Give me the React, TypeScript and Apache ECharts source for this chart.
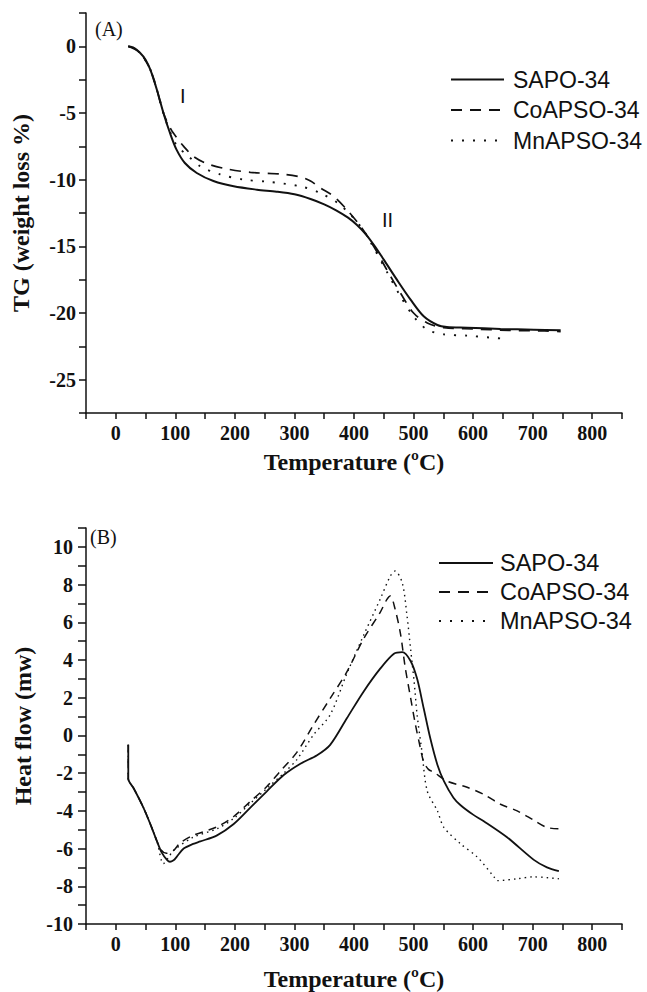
import React, { useEffect, useRef } from "react";
import * as echarts from "echarts";

// ---- Panel A: TG curves (temperature °C, weight loss %) ----
const tgSapoT = [21, 30, 41, 50, 58, 69, 80, 91, 102, 116, 136, 164, 198, 237, 270, 300, 327, 350, 370, 390, 405, 420, 435, 450, 472, 495, 517, 540, 556, 590, 646, 702, 747];
const tgSapoV = [0, -0.1, -0.5, -1.0, -1.75, -3.25, -5, -6.5, -7.75, -8.75, -9.5, -10.1, -10.5, -10.75, -10.9, -11.1, -11.45, -11.85, -12.3, -12.85, -13.4, -14.1, -15.0, -16.0, -17.5, -19.0, -20.25, -20.9, -21.05, -21.1, -21.2, -21.25, -21.3];
const tgCoT = [21, 41, 58, 69, 80, 93, 105, 114, 130, 153, 187, 226, 282, 310, 327, 343, 366, 388, 411, 433, 455, 478, 500, 523, 551, 600, 660, 720, 747];
const tgCoV = [0, -0.5, -1.75, -3.25, -5, -6.25, -7.0, -7.5, -8.25, -8.8, -9.2, -9.45, -9.6, -9.8, -10.1, -10.6, -11.25, -12.25, -13.5, -15.0, -16.75, -18.5, -20.0, -20.75, -21.1, -21.2, -21.3, -21.35, -21.4];
const tgMnT = [21, 41, 58, 69, 80, 91, 102, 122, 142, 175, 215, 254, 310, 343, 377, 411, 433, 455, 478, 500, 523, 551, 590, 657];
const tgMnV = [0, -0.5, -1.75, -3.25, -5, -6.4, -7.4, -8.25, -9.0, -9.6, -10.0, -10.15, -10.5, -11.0, -11.9, -13.5, -15.1, -16.9, -18.75, -20.25, -21.25, -21.6, -21.7, -21.95];

// ---- Panel B: DSC heat flow (mw) ----
const hfSapoT = [21, 21, 30, 46, 58, 69, 77, 86, 91, 97, 102, 114, 130, 142, 170, 198, 226, 254, 282, 310, 338, 360, 388, 416, 444, 467, 481, 495, 506, 517, 528, 540, 551, 567, 579, 600, 618, 657, 702, 724, 744];
const hfSapoV = [-0.5, -2.3, -2.8, -3.8, -4.7, -5.6, -6.2, -6.6, -6.7, -6.62, -6.45, -6.0, -5.75, -5.62, -5.3, -4.7, -3.83, -2.95, -2.1, -1.5, -1.05, -0.5, 0.91, 2.32, 3.54, 4.33, 4.42, 3.95, 3.0, 1.44, -0.14, -1.55, -2.42, -3.3, -3.7, -4.2, -4.55, -5.4, -6.6, -7.0, -7.2];
const hfCoT = [21, 21, 30, 46, 58, 69, 77, 85, 97, 108, 130, 170, 198, 226, 254, 276, 304, 332, 360, 388, 416, 444, 455, 461, 469, 478, 486, 495, 503, 511, 517, 525, 534, 556, 590, 618, 646, 674, 702, 724, 744];
const hfCoV = [-0.5, -2.3, -2.8, -3.8, -4.7, -5.6, -6.1, -6.25, -6.1, -5.7, -5.3, -4.85, -4.3, -3.5, -2.7, -1.9, -0.9, 0.56, 1.96, 3.37, 5.12, 6.53, 7.2, 7.4, 6.7, 5.4, 3.6, 2.0, 0.6, -0.6, -1.4, -1.8, -1.95, -2.42, -2.75, -3.13, -3.65, -4.0, -4.5, -4.88, -4.95];
const hfMnT = [21, 21, 30, 46, 58, 69, 80, 88, 97, 130, 170, 198, 226, 254, 282, 304, 332, 360, 388, 416, 444, 461, 469, 481, 489, 495, 501, 506, 514, 523, 540, 551, 579, 607, 635, 640, 674, 702, 744];
const hfMnV = [-0.5, -2.3, -2.8, -3.8, -4.7, -5.6, -6.8, -6.5, -6.1, -5.4, -4.95, -4.4, -3.6, -2.8, -2.0, -1.28, 0.03, 1.1, 3.28, 5.3, 7.23, 8.45, 8.72, 8.1, 6.35, 4.6, 2.84, 1.08, -0.84, -2.95, -4.0, -4.88, -5.75, -6.45, -7.5, -7.7, -7.6, -7.5, -7.6];

const seriesNames = ["SAPO-34", "CoAPSO-34", "MnAPSO-34"];
const xTickLabels = [0, 100, 200, 300, 400, 500, 600, 700, 800];
const panelLabels = ["(A)", "(B)"];
const stageLabels = ["I", "II"];

const zip = (t: number[], v: number[]) => t.map((x, i) => [x, v[i]]);

const SERIF = "Liberation Serif";
const SANS = "Liberation Sans";
const INK = "#111";

const boldLabel = { fontFamily: SERIF, fontWeight: "bold", fontSize: 20, color: INK };

export default function App() {
  const ref = useRef<HTMLDivElement>(null);
  useEffect(() => {
    if (!ref.current) return;
    const chart = echarts.init(ref.current, undefined, { renderer: "svg" });

    const xAxisBase = (gridIndex: number, nameGap: number) => ({
      type: "value",
      gridIndex,
      min: -50,
      max: 850,
      interval: 50,
      name: "Temperature (ºC)",
      nameLocation: "middle",
      nameGap,
      nameTextStyle: { fontFamily: SERIF, fontWeight: "bold", fontSize: 24, color: INK },
      axisLine: { show: true, onZero: false, lineStyle: { color: INK, width: 1.5 } },
      axisTick: { show: true, length: 6, lineStyle: { color: INK, width: 1.5 } },
      axisLabel: {
        margin: 10,
        ...boldLabel,
        formatter: (v: number) => (xTickLabels.includes(v) ? `{b|${v}}` : ""),
        rich: { b: boldLabel },
      },
      splitLine: { show: false },
    });

    const lineSeries = (
      name: string,
      xAxisIndex: number,
      data: number[][],
      type: any,
      width: number
    ) => ({
      name,
      type: "line",
      xAxisIndex,
      yAxisIndex: xAxisIndex,
      data,
      symbol: "none",
      smooth: 0.3,
      lineStyle: { color: INK, width, type },
      itemStyle: { color: INK },
    });

    const legendBase = {
      data: seriesNames,
      orient: "vertical",
      padding: 0,
      itemHeight: 14,
      selectedMode: false,
      itemStyle: { opacity: 0 },
    };

    chart.setOption({
      animation: false,
      backgroundColor: "#fff",
      grid: [
        { left: 86, top: 13, width: 536, height: 400 },
        { left: 86, top: 528, width: 536, height: 399 },
      ],
      xAxis: [xAxisBase(0, 37), xAxisBase(1, 43)],
      yAxis: [
        {
          type: "value",
          gridIndex: 0,
          min: -27.5,
          max: 2.5,
          interval: 2.5,
          name: "TG (weight loss %)",
          nameLocation: "middle",
          nameGap: 53,
          nameTextStyle: { fontFamily: SERIF, fontWeight: "bold", fontSize: 24, color: INK },
          axisLine: { show: true, onZero: false, lineStyle: { color: INK, width: 1.5 } },
          axisTick: { show: true, length: 7, lineStyle: { color: INK, width: 1.5 } },
          axisLabel: {
            margin: 10,
            ...boldLabel,
            formatter: (v: number) => (v % 5 === 0 ? `{b|${v}}` : ""),
            rich: { b: boldLabel },
          },
          splitLine: { show: false },
        },
        {
          type: "value",
          gridIndex: 1,
          min: -10,
          max: 11,
          interval: 1,
          name: "Heat flow (mw)",
          nameLocation: "middle",
          nameGap: 44,
          nameTextStyle: { fontFamily: SERIF, fontWeight: "bold", fontSize: 24, color: INK },
          axisLine: { show: true, onZero: false, lineStyle: { color: INK, width: 1.5 } },
          axisTick: { show: true, length: 8, lineStyle: { color: INK, width: 1.5 } },
          axisLabel: {
            margin: 13,
            ...boldLabel,
            formatter: (v: number) => (v % 2 === 0 && v <= 10 ? `{b|${v}}` : ""),
            rich: { b: boldLabel },
          },
          splitLine: { show: false },
        },
      ],
      legend: [
        {
          ...legendBase,
          left: 450,
          top: 68,
          itemWidth: 53,
          itemGap: 7.5,
          textStyle: { fontFamily: SANS, fontSize: 23, color: INK, lineHeight: 22, padding: [0, 0, 0, 4] },
        },
        {
          ...legendBase,
          left: 438,
          top: 551,
          itemWidth: 54,
          itemGap: 5,
          textStyle: { fontFamily: SANS, fontSize: 23.5, color: INK, lineHeight: 22, padding: [0, 0, 0, 2] },
        },
      ],
      graphic: [
        { type: "text", left: 95, top: 19, style: { text: panelLabels[0], font: `20px ${SERIF}`, fill: INK } },
        { type: "text", left: 90, top: 527, style: { text: panelLabels[1], font: `20px ${SERIF}`, fill: INK } },
        { type: "text", left: 180, top: 86, style: { text: stageLabels[0], font: `20px ${SANS}`, fill: INK } },
        { type: "text", left: 382, top: 210, style: { text: stageLabels[1], font: `20px ${SANS}`, fill: INK } },
      ],
      series: [
        lineSeries(seriesNames[0], 0, zip(tgSapoT, tgSapoV), "solid", 2),
        lineSeries(seriesNames[1], 0, zip(tgCoT, tgCoV), [11, 8], 1.7),
        lineSeries(seriesNames[2], 0, zip(tgMnT, tgMnV), [2, 9], 1.9),
        lineSeries(seriesNames[0], 1, zip(hfSapoT, hfSapoV), "solid", 1.8),
        lineSeries(seriesNames[1], 1, zip(hfCoT, hfCoV), [8, 6], 1.5),
        lineSeries(seriesNames[2], 1, zip(hfMnT, hfMnV), [1.5, 4], 1.4),
      ],
    });
    return () => chart.dispose();
  }, []);

  return (
    <div
      ref={ref}
      style={{ position: "fixed", left: 0, top: 0, width: 647, height: 992, background: "#fff" }}
    />
  );
}
